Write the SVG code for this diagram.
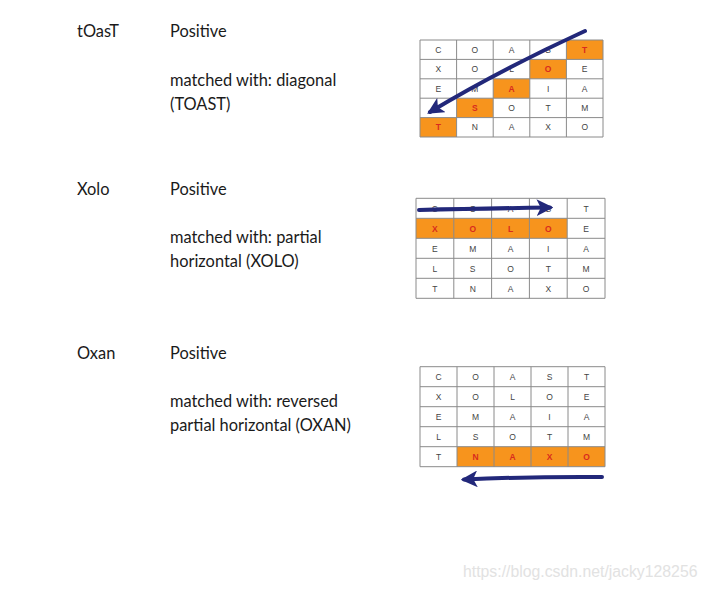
<svg xmlns="http://www.w3.org/2000/svg" width="708" height="590" viewBox="0 0 708 590">
<defs>
<style>
.lbl{font-family:Lato,"Open Sans","Liberation Sans",sans-serif;font-size:16.4px;fill:#1a1a1a}
.c{font-family:"Liberation Sans",Arial,sans-serif;font-size:8.5px;fill:#444;text-anchor:middle}
.h{fill:#d92b1e;font-weight:bold}
.grid{fill:none;stroke:#8a8a8a;stroke-width:1}
.hl{fill:#f7941d}
.arr{fill:none;stroke:#22287a;stroke-width:4;stroke-linecap:round}
.wm{font-family:"Liberation Sans",Arial,sans-serif;font-size:15.8px;fill:#e2e2e2}
</style>
<marker id="ah" viewBox="0 0 10 10" refX="8" refY="5" markerWidth="4.2" markerHeight="4.2" orient="auto" markerUnits="strokeWidth">
<path d="M0,0 L10,5 L0,10 L2.5,5 Z" fill="#22287a"/>
</marker>
</defs>
<rect width="708" height="590" fill="#fff"/>

<g id="labels1">
<text class="lbl" x="77" y="37">tOasT</text>
<text class="lbl" x="170" y="37">Positive</text>
<text class="lbl" x="170" y="86">matched with: diagonal</text>
<text class="lbl" x="170" y="110">(TOAST)</text>
</g>
<g id="labels2">
<text class="lbl" x="77" y="195">Xolo</text>
<text class="lbl" x="170" y="195">Positive</text>
<text class="lbl" x="170" y="243">matched with: partial</text>
<text class="lbl" x="170" y="267">horizontal (XOLO)</text>
</g>
<g id="labels3">
<text class="lbl" x="77" y="359">Oxan</text>
<text class="lbl" x="170" y="359">Positive</text>
<text class="lbl" x="170" y="407">matched with: reversed</text>
<text class="lbl" x="170" y="431">partial horizontal (OXAN)</text>
</g>

<g id="grid1">
<rect class="hl" x="566.4" y="40" width="36.6" height="19.4"/>
<rect class="hl" x="529.8" y="59.4" width="36.6" height="19.4"/>
<rect class="hl" x="493.2" y="78.8" width="36.6" height="19.4"/>
<rect class="hl" x="456.6" y="98.2" width="36.6" height="19.4"/>
<rect class="hl" x="420" y="117.6" width="36.6" height="19.4"/>
<path class="grid" d="M420,40H603V137H420Z M456.6,40V137 M493.2,40V137 M529.8,40V137 M566.4,40V137 M420,59.4H603 M420,78.8H603 M420,98.2H603 M420,117.6H603"/>
<g class="c">
<text x="438.3" y="52.8">C</text><text x="474.9" y="52.8">O</text><text x="511.5" y="52.8">A</text><text x="548.1" y="52.8">S</text><text class="h" x="584.7" y="52.8">T</text>
<text x="438.3" y="72.2">X</text><text x="474.9" y="72.2">O</text><text x="511.5" y="72.2">L</text><text class="h" x="548.1" y="72.2">O</text><text x="584.7" y="72.2">E</text>
<text x="438.3" y="91.6">E</text><text x="474.9" y="91.6">M</text><text class="h" x="511.5" y="91.6">A</text><text x="548.1" y="91.6">I</text><text x="584.7" y="91.6">A</text>
<text x="438.3" y="111">L</text><text class="h" x="474.9" y="111">S</text><text x="511.5" y="111">O</text><text x="548.1" y="111">T</text><text x="584.7" y="111">M</text>
<text class="h" x="438.3" y="130.4">T</text><text x="474.9" y="130.4">N</text><text x="511.5" y="130.4">A</text><text x="548.1" y="130.4">X</text><text x="584.7" y="130.4">O</text>
</g>
</g>

<g id="grid2">
<rect class="hl" x="416" y="218.3" width="151.2" height="20"/>
<path class="grid" d="M416,198.3H605V298.3H416Z M453.8,198.3V298.3 M491.6,198.3V298.3 M529.4,198.3V298.3 M567.2,198.3V298.3 M416,218.3H605 M416,238.3H605 M416,258.3H605 M416,278.3H605"/>
<g class="c">
<text x="434.9" y="211.5">C</text><text x="472.7" y="211.5">O</text><text x="510.5" y="211.5">A</text><text x="548.3" y="211.5">S</text><text x="586.1" y="211.5">T</text>
<text class="h" x="434.9" y="231.5">X</text><text class="h" x="472.7" y="231.5">O</text><text class="h" x="510.5" y="231.5">L</text><text class="h" x="548.3" y="231.5">O</text><text x="586.1" y="231.5">E</text>
<text x="434.9" y="251.5">E</text><text x="472.7" y="251.5">M</text><text x="510.5" y="251.5">A</text><text x="548.3" y="251.5">I</text><text x="586.1" y="251.5">A</text>
<text x="434.9" y="271.5">L</text><text x="472.7" y="271.5">S</text><text x="510.5" y="271.5">O</text><text x="548.3" y="271.5">T</text><text x="586.1" y="271.5">M</text>
<text x="434.9" y="291.5">T</text><text x="472.7" y="291.5">N</text><text x="510.5" y="291.5">A</text><text x="548.3" y="291.5">X</text><text x="586.1" y="291.5">O</text>
</g>
</g>

<g id="grid3">
<rect class="hl" x="457" y="446.7" width="148" height="20"/>
<path class="grid" d="M420,366.7H605V466.7H420Z M457,366.7V466.7 M494,366.7V466.7 M531,366.7V466.7 M568,366.7V466.7 M420,386.7H605 M420,406.7H605 M420,426.7H605 M420,446.7H605"/>
<g class="c">
<text x="438.5" y="379.9">C</text><text x="475.5" y="379.9">O</text><text x="512.5" y="379.9">A</text><text x="549.5" y="379.9">S</text><text x="586.5" y="379.9">T</text>
<text x="438.5" y="399.9">X</text><text x="475.5" y="399.9">O</text><text x="512.5" y="399.9">L</text><text x="549.5" y="399.9">O</text><text x="586.5" y="399.9">E</text>
<text x="438.5" y="419.9">E</text><text x="475.5" y="419.9">M</text><text x="512.5" y="419.9">A</text><text x="549.5" y="419.9">I</text><text x="586.5" y="419.9">A</text>
<text x="438.5" y="439.9">L</text><text x="475.5" y="439.9">S</text><text x="512.5" y="439.9">O</text><text x="549.5" y="439.9">T</text><text x="586.5" y="439.9">M</text>
<text x="438.5" y="459.9">T</text><text class="h" x="475.5" y="459.9">N</text><text class="h" x="512.5" y="459.9">A</text><text class="h" x="549.5" y="459.9">X</text><text class="h" x="586.5" y="459.9">O</text>
</g>
</g>

<g id="connectors">
<path class="arr" d="M585,31 Q500,70 430,112" marker-end="url(#ah)"/>
<path class="arr" d="M419,210 Q480,208.5 550,207.5" marker-end="url(#ah)"/>
<path class="arr" d="M602,477 Q530,476.5 464,479.5" marker-end="url(#ah)"/>
</g>

<text class="wm" x="463" y="577">https://blog.csdn.net/jacky128256</text>
</svg>
